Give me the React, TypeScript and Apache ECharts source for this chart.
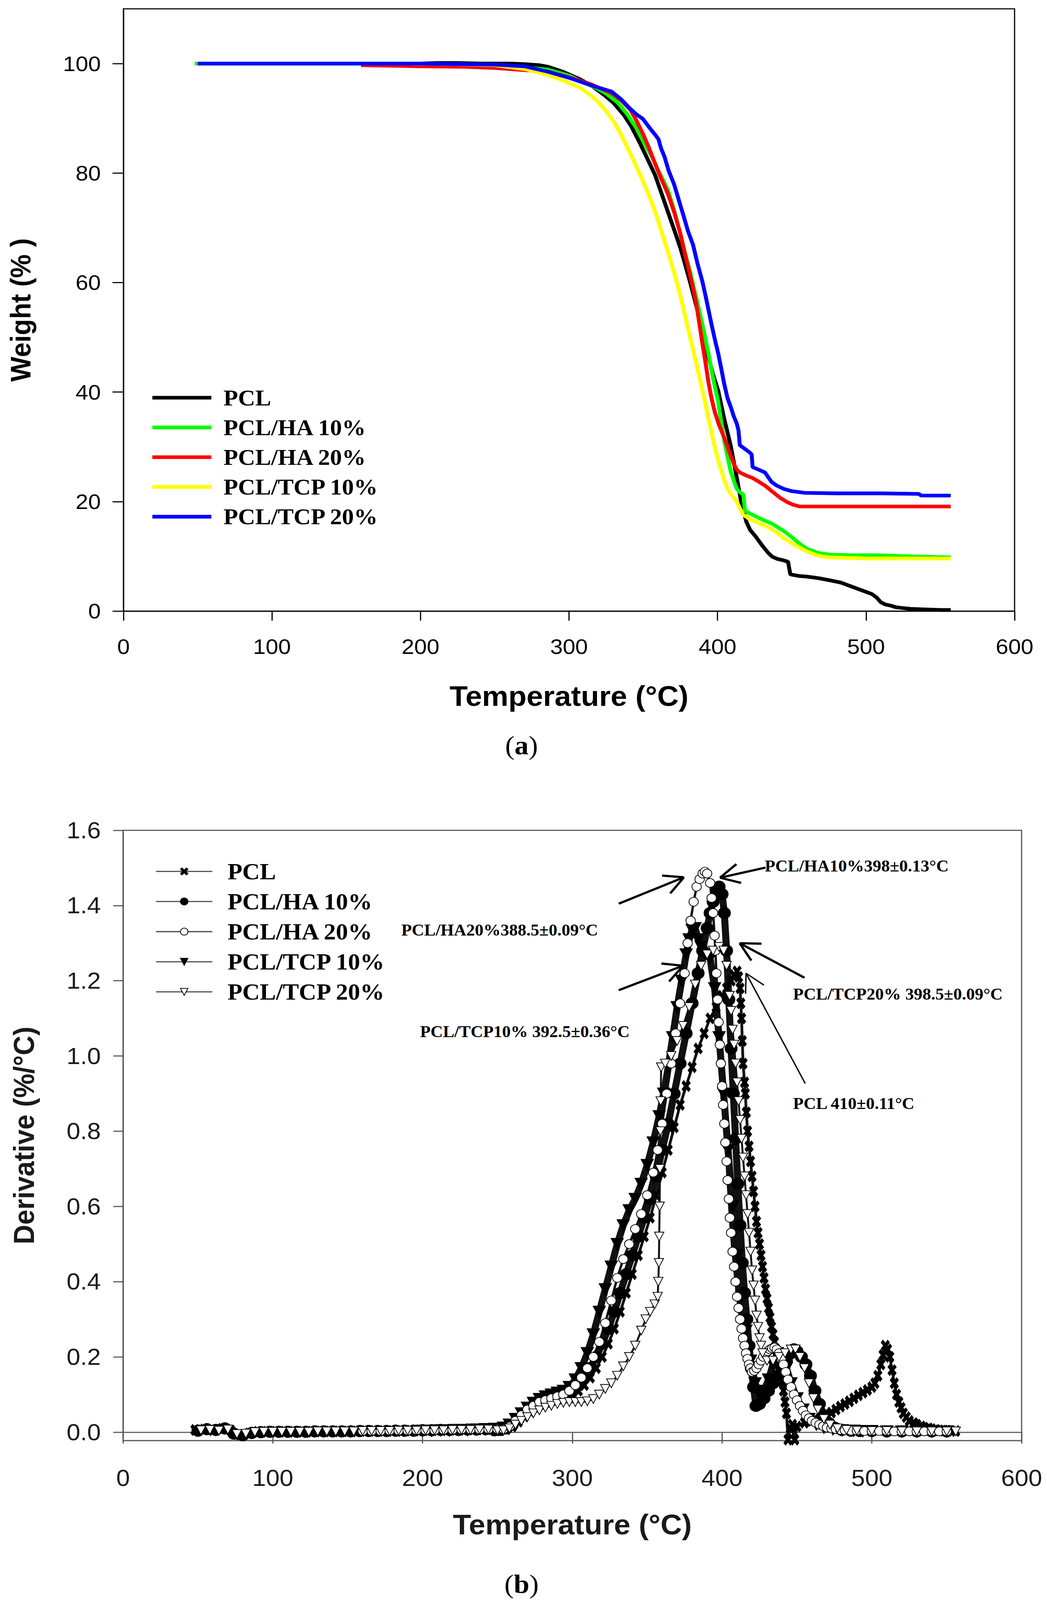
import React, { useEffect, useRef } from 'react';
import * as echarts from 'echarts';

// ---------- shared ----------
const seriesNames = ['PCL', 'PCL/HA 10%', 'PCL/HA 20%', 'PCL/TCP 10%', 'PCL/TCP 20%'];
const tgColors = ['#000000', '#00ff00', '#ff0000', '#ffff00', '#0000ff'];
const weightTicks = [0, 20, 40, 60, 80, 100];
const derivTicks = [0, 0.2, 0.4, 0.6, 0.8, 1.0, 1.2, 1.4, 1.6];

// ---------- (a) TG curves: [temperature °C, weight %] ----------
const tgPCL = [[200,100],[210,100.1],[225,100.1],[240,100],[260,100],[270,99.9],[280,99.7],[286,99.4],[295,98.6],[307,97.2],[315,96.0],[324,94.2],[330,92.8],[337,90.6],[342,88.5],[347.5,85.6],[353,82.5],[358,79.6],[362,76.5],[366.6,72.9],[371,69.5],[375,66.3],[378,63.5],[381.3,60.3],[384.5,57],[387.7,53.6],[391,50],[394,46.3],[397,43.2],[400.4,40.3],[404.6,35.0],[408.8,30.3],[413,24.3],[416,19.8],[419.4,16.3],[422,14.8],[425.7,13.6],[430,12],[434.2,10.6],[437,9.9],[440.5,9.5],[444,9.3],[447.5,9.0],[449,6.7],[455,6.4],[460,6.3],[468,6.0],[476,5.6],[483,5.2],[489,4.6],[496,3.9],[504,3.1],[507,2.5],[510,1.6],[513,1.2],[516.6,1.0],[520,0.7],[523,0.6],[530,0.4],[540,0.3],[550,0.2],[557,0.2]];
const tgHA10 = [[48,100],[100,100],[150,100],[200,100],[250,99.8],[270,99.3],[286,98.9],[300,97.8],[310,96.5],[318,95.6],[325,94.5],[332.7,92.9],[339,90.8],[345.4,88.2],[350,85.8],[356,82.9],[361,80.0],[366.6,76.9],[371,73.0],[375,68.9],[378,65.5],[381.3,62.3],[384.5,58.5],[387.7,54.9],[391,50.8],[394,46.9],[397,42.5],[400.4,38.3],[402.5,34.5],[404.6,31.0],[406.7,28.2],[408.8,25.6],[411,23.8],[413,22.3],[415,21.7],[417.3,21.3],[418.5,18.3],[422,17.8],[425.7,17.3],[431,16.6],[436.3,16.0],[440,15.4],[444.7,14.6],[450,13.5],[455.3,12.3],[460,11.4],[465.9,10.8],[470,10.5],[476.4,10.3],[490,10.2],[508,10.2],[530,10.0],[557,9.8]];
const tgHA20 = [[160,99.7],[180,99.6],[200,99.5],[230,99.4],[250,99.2],[270,98.8],[286,98.5],[300,97.5],[315,96.2],[328.5,94.6],[335,93.3],[341.2,91.6],[345,89.8],[349.7,87.2],[354,84.5],[358.1,81.6],[362,79.0],[366.6,76.2],[371,72.7],[375,68.9],[378,65.3],[381.3,61.6],[383.5,59],[385.6,56.3],[387.7,52.6],[389.8,48.9],[392,45.2],[394,41.6],[396,38.8],[398.2,36.3],[401,34],[404.6,31.6],[408,29.0],[410.9,26.9],[413,25.8],[415.1,25.3],[419,24.8],[423.6,24.3],[428,23.6],[432,22.9],[437,21.8],[442.6,20.6],[447,19.9],[451.1,19.4],[455.3,19.1],[470,19.1],[500,19.1],[530,19.1],[557,19.1]];
const tgTCP10 = [[195,100],[220,99.9],[250,99.7],[270,99.0],[286,97.9],[297,96.8],[307.4,95.6],[314,94.3],[320.1,92.9],[325,91.3],[330.6,89.2],[336,86.5],[341.2,83.6],[345.5,81.1],[349.7,78.6],[354,75.8],[358.1,72.9],[362,69.5],[366.6,65.6],[371,61.6],[375,57.6],[378,54.0],[381.3,50.3],[384.5,46.6],[387.7,42.9],[391,38.9],[394,35.0],[397,31.3],[400.4,27.6],[403.5,24.8],[406.7,22.3],[410,21.0],[413,20.0],[415,18.8],[417.3,17.6],[421,16.9],[425.7,16.3],[430,15.8],[434.2,15.3],[440,14.3],[444.7,13.3],[450,12.4],[455.3,11.6],[460,10.9],[465.9,10.3],[470,10.0],[476.4,9.8],[500,9.6],[530,9.6],[557,9.6]];
const tgTCP20 = [[50,100],[100,100],[150,100],[200,100],[250,99.8],[270,99.5],[286,98.5],[300,97.4],[315,96.0],[328.5,94.9],[335,93.5],[341,91.8],[345,90.8],[349.7,89.9],[355,88.0],[358,87.0],[360.2,86.2],[362,84.5],[364.4,82.9],[367,80.5],[370.8,77.9],[374,75.0],[377.1,72.2],[380,69.5],[383.5,66.9],[386.5,63.5],[389.8,60.2],[392,57.5],[394,54.9],[396,52.3],[398.2,49.6],[400.5,47],[402.5,44.3],[404.5,41.5],[406.7,38.9],[409,37.2],[410.9,35.6],[413,34.2],[414.1,33.0],[415,30.3],[418,29.7],[421.5,29.0],[423,28.6],[423.6,26.3],[428,25.8],[432,25.3],[434,24.5],[436.3,23.6],[440,22.9],[444.7,22.3],[450,21.9],[458.5,21.6],[480,21.5],[510,21.5],[535.6,21.4],[537,21.1],[557,21.1]];

// ---------- (b) DTG curves: [temperature °C, derivative %/°C] ----------
const dtgPCL = [[48,0.006],[54,0.007],[60,0.005],[66,0.009],[72,0.004],[78,-0.007],[84,-0.003],[90,0.001],[96,0.001],[102,0.001],[108,0.001],[114,0.001],[120,0.001],[126,0.001],[132,0.002],[138,0.002],[144,0.002],[150,0.002],[156,0.002],[162,0.003],[168,0.003],[174,0.003],[180,0.003],[186,0.003],[192,0.004],[198,0.004],[204,0.005],[210,0.005],[216,0.005],[222,0.006],[228,0.006],[234,0.007],[240,0.007],[246,0.008],[252,0.005],[256,0.008],[260,0.015],[264,0.028],[268,0.042],[272,0.055],[276,0.065],[280,0.074],[284,0.08],[288,0.085],[292,0.09],[296,0.095],[300,0.1],[304,0.11],[308,0.125],[312,0.145],[316,0.17],[320,0.2],[324,0.235],[328,0.275],[332,0.32],[336,0.37],[340,0.42],[344,0.47],[348,0.52],[352,0.57],[356,0.63],[360,0.69],[364,0.75],[368,0.81],[372,0.87],[376,0.92],[380,0.97],[384,1.02],[388,1.06],[392,1.1],[396,1.13],[400,1.16],[403,1.18],[406,1.2],[408,1.215],[410,1.225],[411,1.21],[412,1.18],[412.5,1.14],[413,1.1],[413.5,1.04],[414,0.98],[415,0.93],[415.5,0.9],[416.2,0.85],[417,0.8],[418,0.76],[419,0.72],[420,0.68],[421,0.64],[422,0.6],[423,0.56],[424,0.53],[425,0.5],[426,0.47],[427,0.44],[428,0.41],[429,0.38],[430,0.355],[431,0.33],[432,0.305],[433,0.28],[434,0.26],[435,0.24],[436,0.22],[437,0.2],[438,0.18],[439,0.16],[440,0.135],[441,0.11],[442,0.08],[443,0.05],[444,-0.02],[445.5,0.01],[447,0.02],[448.5,-0.02],[450,0.015],[455,0.025],[460,0.03],[465,0.035],[470,0.045],[473,0.052],[476,0.06],[479,0.068],[482,0.075],[485,0.082],[488,0.09],[491,0.098],[494,0.105],[497,0.112],[500,0.12],[502,0.13],[504,0.15],[506,0.18],[507.5,0.205],[509,0.23],[510.5,0.22],[512,0.2],[513.5,0.165],[515,0.13],[516.5,0.1],[518,0.08],[519.5,0.065],[521,0.05],[523,0.04],[525,0.03],[528,0.024],[530,0.02],[533,0.015],[535,0.012],[538,0.01],[540,0.008],[543,0.006],[545,0.005],[548,0.004],[550,0.004],[553,0.003],[556,0.003]];
const dtgHA10 = [[50,0.004],[56,0.008],[62,0.006],[68,0.01],[74,-0.004],[80,-0.008],[86,-0.002],[92,0.0],[98,0.001],[104,0.001],[110,0.001],[116,0.001],[122,0.001],[128,0.002],[134,0.002],[140,0.002],[146,0.002],[152,0.002],[158,0.003],[164,0.003],[170,0.003],[176,0.003],[182,0.004],[188,0.004],[194,0.004],[200,0.005],[206,0.005],[212,0.006],[218,0.006],[224,0.006],[230,0.007],[236,0.007],[242,0.008],[248,0.005],[252,0.006],[256,0.01],[260,0.02],[264,0.035],[268,0.05],[272,0.062],[276,0.072],[280,0.08],[284,0.085],[288,0.09],[292,0.095],[296,0.1],[300,0.11],[304,0.125],[308,0.145],[312,0.17],[316,0.2],[320,0.235],[324,0.275],[328,0.32],[332,0.37],[336,0.42],[340,0.47],[344,0.52],[348,0.57],[352,0.62],[356,0.68],[360,0.75],[364,0.82],[368,0.9],[372,0.98],[376,1.06],[380,1.14],[384,1.22],[387,1.28],[390,1.34],[392,1.38],[394,1.41],[396,1.44],[398,1.45],[400,1.43],[401.5,1.38],[403,1.28],[404.5,1.15],[406,1.02],[407.5,0.9],[409,0.78],[410.5,0.66],[412,0.55],[413.5,0.45],[415,0.37],[416.5,0.3],[418,0.23],[419.5,0.17],[421,0.12],[422.6,0.07],[425,0.075],[428,0.09],[431,0.11],[434,0.13],[437,0.15],[440,0.17],[443,0.19],[446,0.21],[448,0.22],[450,0.215],[453,0.2],[456,0.18],[459,0.15],[462,0.11],[465,0.075],[468,0.045],[471,0.025],[475,0.012],[480,0.006],[486,0.004],[492,0.003],[500,0.003],[510,0.002],[520,0.002],[530,0.002],[540,0.002],[550,0.002]];
const dtgHA20 = [[160,0.003],[166,0.003],[172,0.003],[178,0.004],[184,0.004],[190,0.004],[196,0.005],[202,0.005],[208,0.005],[214,0.006],[220,0.006],[226,0.007],[232,0.007],[238,0.007],[244,0.008],[250,0.008],[254,0.008],[258,0.015],[262,0.03],[266,0.045],[270,0.06],[274,0.07],[278,0.08],[282,0.085],[286,0.09],[290,0.095],[294,0.1],[298,0.11],[302,0.125],[306,0.145],[310,0.17],[314,0.2],[318,0.24],[322,0.29],[326,0.35],[330,0.41],[334,0.46],[338,0.5],[342,0.54],[346,0.58],[350,0.63],[354,0.69],[357,0.75],[360,0.82],[363,0.9],[366,0.98],[369,1.06],[372,1.14],[375,1.22],[377,1.3],[379,1.36],[381,1.41],[383,1.45],[385,1.47],[387,1.485],[388.5,1.49],[390,1.485],[392,1.46],[393,1.42],[394,1.38],[395,1.32],[395.5,1.28],[396.2,1.22],[397,1.15],[397.7,1.09],[398.5,1.03],[399.2,0.98],[400,0.92],[400.7,0.87],[401.5,0.82],[402.2,0.77],[403,0.72],[403.7,0.67],[404.5,0.62],[405.2,0.57],[406,0.53],[407,0.48],[408,0.44],[409,0.4],[410,0.36],[411,0.33],[412,0.3],[413,0.275],[414,0.25],[415,0.23],[416,0.21],[417,0.195],[418,0.18],[419,0.17],[420,0.16],[421.5,0.163],[423,0.17],[424.5,0.18],[426,0.19],[427.5,0.2],[429,0.21],[430.5,0.215],[432,0.22],[433.5,0.223],[435,0.225],[436.5,0.22],[438,0.21],[439.5,0.195],[441,0.18],[442.5,0.16],[444,0.14],[446,0.12],[448,0.1],[450,0.085],[452,0.07],[454,0.057],[456,0.045],[458,0.037],[460,0.03],[462.5,0.025],[465,0.02],[467.5,0.016],[470,0.012],[473,0.01],[476,0.008],[479,0.006],[482,0.005],[486,0.004],[490,0.004],[495,0.003],[500,0.003],[505,0.003],[510,0.003],[515,0.002],[520,0.002],[525,0.002],[530,0.002],[535,0.002],[540,0.002],[545,0.002],[550,0.002]];
const dtgTCP10 = [[200,0.004],[206,0.004],[212,0.005],[218,0.005],[224,0.006],[230,0.006],[236,0.007],[242,0.008],[248,0.009],[254,0.012],[258,0.02],[262,0.035],[266,0.05],[270,0.065],[274,0.078],[278,0.088],[282,0.095],[286,0.1],[290,0.105],[294,0.11],[298,0.12],[302,0.14],[306,0.17],[310,0.21],[314,0.26],[318,0.32],[322,0.38],[326,0.44],[330,0.5],[334,0.55],[338,0.59],[342,0.62],[346,0.66],[350,0.71],[354,0.77],[358,0.84],[361,0.9],[364,0.97],[367,1.05],[370,1.13],[373,1.2],[376,1.27],[378,1.31],[380,1.335],[382,1.34],[384,1.31],[386,1.29],[389,1.27],[392,1.26],[395,1.18],[398,1.05],[401,0.9],[404,0.75],[407,0.6],[410,0.47],[413,0.36],[416,0.27],[419,0.19],[422,0.13],[425,0.1],[428,0.11],[431,0.14],[434,0.18],[437,0.21],[440,0.2],[443,0.17],[446,0.13],[450,0.09],[454,0.06],[458,0.035],[463,0.02],[468,0.012],[474,0.008],[480,0.005],[488,0.004],[494,0.003],[500,0.003],[510,0.002],[520,0.002],[530,0.002],[540,0.002],[550,0.002]];
const dtgTCP20 = [[52,0.005],[58,0.006],[64,0.004],[70,0.007],[76,-0.005],[82,-0.004],[88,0.0],[94,0.001],[100,0.001],[106,0.001],[112,0.001],[118,0.001],[124,0.001],[130,0.002],[136,0.002],[142,0.002],[148,0.002],[154,0.002],[160,0.003],[166,0.003],[172,0.003],[178,0.003],[184,0.004],[190,0.004],[196,0.004],[202,0.005],[208,0.005],[214,0.005],[220,0.006],[226,0.006],[232,0.006],[238,0.007],[244,0.007],[250,0.005],[254,0.005],[258,0.01],[262,0.02],[266,0.03],[270,0.04],[274,0.05],[278,0.058],[282,0.065],[286,0.07],[290,0.075],[294,0.078],[298,0.08],[302,0.08],[306,0.08],[310,0.082],[314,0.088],[318,0.1],[322,0.115],[326,0.13],[330,0.15],[334,0.175],[338,0.2],[342,0.23],[346,0.27],[349,0.3],[352,0.32],[355,0.34],[357,0.36],[357.4,0.4],[357.8,0.45],[358,0.52],[358.3,0.6],[358.5,0.7],[358.8,0.8],[359,0.88],[359.3,0.97],[362,0.98],[366,1.0],[370,1.04],[374,1.08],[378,1.13],[382,1.19],[386,1.24],[390,1.27],[394,1.28],[398,1.29],[401,1.28],[403,1.24],[405,1.16],[406,1.12],[407,1.07],[408,1.03],[409,0.98],[410,0.93],[411,0.88],[412,0.83],[413,0.78],[414,0.73],[415,0.68],[416,0.63],[417,0.58],[418,0.53],[419,0.48],[420,0.43],[421,0.39],[422,0.35],[423,0.31],[424,0.28],[425,0.25],[426,0.23],[427,0.21],[430,0.19],[434,0.19],[438,0.2],[442,0.21],[446,0.22],[449,0.22],[452,0.2],[455,0.17],[458,0.13],[461,0.09],[464,0.06],[468,0.035],[472,0.02],[477,0.01],[483,0.006],[490,0.004],[500,0.003],[510,0.003],[520,0.002],[530,0.002],[540,0.002],[550,0.002],[556,0.002]];

const tgData = [tgPCL, tgHA10, tgHA20, tgTCP10, tgTCP20];
const dtgData = [dtgPCL, dtgHA10, dtgHA20, dtgTCP10, dtgTCP20];

const crossPath = 'path://M0,2L2,0L5,3L8,0L10,2L7,5L10,8L8,10L5,7L2,10L0,8L3,5Z';
const dtgSymbols = [crossPath, 'circle', 'emptyCircle', 'triangle', 'emptyTriangle'];
const dtgRotate = [0, 0, 0, 180, 180];
const dtgLineWidth = [7, 18, 6, 18, 5];
const dtgSymbolSize = [[20, 28], 30, 24, 30, 24];
const dtgDrawOrder = [3, 1, 0, 2, 4]; // TCP10, HA10, PCL, HA20, TCP20 (open markers drawn last)

// annotations for (b), in data coordinates
const peakLabels = [
  { text: 'PCL/HA10%398±0.13°C', at: [428.5, 1.505] },
  { text: 'PCL/HA20%388.5±0.09°C', at: [185.8, 1.335] },
  { text: 'PCL/TCP10% 392.5±0.36°C', at: [198.3, 1.065] },
  { text: 'PCL/TCP20% 398.5±0.09°C', at: [447.4, 1.164] },
  { text: 'PCL 410±0.11°C', at: [447.4, 0.874] },
];
const peakArrows = [
  { tail: [429, 1.501], tip: [398.6, 1.474], w: 6 },
  { tail: [331, 1.405], tip: [374.5, 1.475], w: 6 },
  { tail: [331, 1.175], tip: [374, 1.24], w: 6 },
  { tail: [455, 1.208], tip: [411.7, 1.3], w: 6 },
  { tail: [455.5, 0.927], tip: [416, 1.22], w: 3.5 },
];

const SANS = 'Liberation Sans';
const SERIF = 'Liberation Serif';
const PAGE_W = 2680;
const PAGE_H = 4357;

function optionA(): any {
  return {
    animation: false,
    backgroundColor: '#ffffff',
    grid: { left: 316, top: 24, width: 2281, height: 1640, show: true, borderColor: '#000', borderWidth: 3, backgroundColor: 'transparent' },
    xAxis: {
      type: 'value', min: 0, max: 600, interval: 100,
      name: 'Temperature (°C)', nameLocation: 'middle', nameGap: 194,
      nameTextStyle: { fontFamily: SANS, fontWeight: 'bold', fontSize: 76, color: '#000' },
      axisLine: { lineStyle: { color: '#000', width: 3 } },
      axisTick: { length: 26, lineStyle: { color: '#000', width: 3 } },
      axisLabel: { margin: 68, fontFamily: SANS, fontSize: 58, color: '#000' },
      splitLine: { show: false },
    },
    yAxis: {
      type: 'value', min: 0, max: 110,
      name: 'Weight (% )', nameLocation: 'middle', nameGap: 227,
      nameTextStyle: { fontFamily: SANS, fontWeight: 'bold', fontSize: 72, color: '#000' },
      axisLine: { lineStyle: { color: '#000', width: 3 } },
      axisTick: { length: 28, customValues: weightTicks, lineStyle: { color: '#000', width: 3 } },
      axisLabel: { margin: 58, customValues: weightTicks, fontFamily: SANS, fontSize: 58, color: '#000' },
      splitLine: { show: false },
    },
    legend: {
      orient: 'vertical', left: 385, top: 1047, itemWidth: 151, itemHeight: 10, itemGap: 19,
      data: seriesNames.map((n) => ({ name: n, icon: 'rect' })),
      textStyle: { fontFamily: SERIF, fontWeight: 'bold', fontSize: 61, color: '#000', lineHeight: 62, padding: [0, 0, 0, 26] },
    },
    series: seriesNames.map((name, i) => ({
      type: 'line', name, data: tgData[i], symbol: 'none', showSymbol: false,
      lineStyle: { width: 10, color: tgColors[i] }, itemStyle: { color: tgColors[i] },
    })),
    graphic: [{
      type: 'text', x: 1335, y: 2030,
      style: {
        text: '({b|a})', fontFamily: SERIF, fontSize: 72, fill: '#000', align: 'center', verticalAlign: 'middle',
        rich: { b: { fontFamily: SERIF, fontSize: 72, fontWeight: 'bold', fill: '#000' } },
      },
    }],
  };
}

function optionB(): any {
  const axisColor = '#555';
  const txt = '#1a1a1a';
  return {
    animation: false,
    backgroundColor: '#ffffff',
    grid: { left: 315, top: 111, width: 2300, height: 1662, show: true, borderColor: axisColor, borderWidth: 3, backgroundColor: 'transparent' },
    xAxis: {
      type: 'value', min: 0, max: 600, interval: 100,
      name: 'Temperature (°C)', nameLocation: 'middle', nameGap: 191,
      nameTextStyle: { fontFamily: SANS, fontWeight: 'bold', fontSize: 76, color: txt },
      axisLine: { lineStyle: { color: axisColor, width: 3 } },
      axisTick: { length: 31, lineStyle: { color: axisColor, width: 3 } },
      axisLabel: { margin: 70, fontFamily: SANS, fontSize: 63, color: txt },
      splitLine: { show: false },
    },
    yAxis: {
      type: 'value', min: -0.0225, max: 1.6,
      name: 'Derivative (%/°C)', nameLocation: 'middle', nameGap: 217,
      nameTextStyle: { fontFamily: SANS, fontWeight: 'bold', fontSize: 74, color: txt },
      axisLine: { lineStyle: { color: axisColor, width: 3 } },
      axisTick: { length: 25, customValues: derivTicks, lineStyle: { color: axisColor, width: 3 } },
      axisLabel: { margin: 57, customValues: derivTicks, fontFamily: SANS, fontSize: 63, color: txt, formatter: (v: number) => v.toFixed(1) },
      splitLine: { show: false },
    },
    legend: {
      orient: 'vertical', left: 393, top: 187, itemWidth: 144, itemHeight: 24, itemGap: 20,
      data: seriesNames,
      lineStyle: { width: 3, color: '#444' },
      textStyle: { fontFamily: SERIF, fontWeight: 'bold', fontSize: 62, color: '#000', lineHeight: 62, padding: [0, 0, 0, 34] },
    },
    series: dtgDrawOrder.map((i) => ({
      type: 'line', name: seriesNames[i], data: dtgData[i],
      symbol: dtgSymbols[i], symbolSize: dtgSymbolSize[i], symbolRotate: dtgRotate[i], showAllSymbol: true,
      lineStyle: { width: dtgLineWidth[i], color: '#111' },
      itemStyle: { color: '#000', borderColor: '#000', borderWidth: 3 },
    })),
  };
}

export default function App() {
  const refA = useRef<HTMLDivElement>(null);
  const refB = useRef<HTMLDivElement>(null);
  const viewH = typeof window !== 'undefined' && window.innerHeight ? window.innerHeight : PAGE_H;
  const k = Math.min(1, viewH / PAGE_H);
  useEffect(() => {
    const a = echarts.init(refA.current as HTMLDivElement, null, { renderer: 'svg' });
    const b = echarts.init(refB.current as HTMLDivElement, null, { renderer: 'svg' });
    a.setOption(optionA());
    b.setOption(optionB());

    const toPx = (p: number[]) => b.convertToPixel({ gridIndex: 0 }, p) as number[];
    const elements: any[] = [];
    peakArrows.forEach((ar) => {
      const [tx, ty] = toPx(ar.tip);
      const [sx, sy] = toPx(ar.tail);
      elements.push({ type: 'line', shape: { x1: sx, y1: sy, x2: tx, y2: ty }, style: { stroke: '#000', lineWidth: ar.w }, z: 100 });
      const ang = Math.atan2(sy - ty, sx - tx);
      [-0.49, 0.49].forEach((d) => {
        const L = 56;
        elements.push({
          type: 'line',
          shape: { x1: tx, y1: ty, x2: tx + L * Math.cos(ang + d), y2: ty + L * Math.sin(ang + d) },
          style: { stroke: '#000', lineWidth: ar.w }, z: 100,
        });
      });
    });
    peakLabels.forEach((lb) => {
      const [x, y] = toPx(lb.at);
      elements.push({
        type: 'text', x, y, z: 101,
        style: { text: lb.text, fontFamily: SERIF, fontWeight: 'bold', fontSize: 44, fill: '#000', align: 'left', verticalAlign: 'middle' },
      });
    });
    elements.push({
      type: 'text', x: 1335, y: 2164,
      style: {
        text: '({b|b})', fontFamily: SERIF, fontSize: 72, fill: '#000', align: 'center', verticalAlign: 'middle',
        rich: { b: { fontFamily: SERIF, fontSize: 72, fontWeight: 'bold', fill: '#000' } },
      },
    });
    b.setOption({ graphic: elements });

    return () => { a.dispose(); b.dispose(); };
  }, []);
  return (
    <div style={{ position: 'absolute', left: 0, top: 0, width: PAGE_W, height: PAGE_H * k, overflow: 'hidden', background: '#fff' }}>
      <div style={{ position: 'absolute', left: 0, top: 0, width: PAGE_W, height: PAGE_H, transform: `scale(1, ${k})`, transformOrigin: '0 0' }}>
        <div ref={refA} style={{ position: 'absolute', left: 0, top: 0, width: PAGE_W, height: 2150 }} />
        <div ref={refB} style={{ position: 'absolute', left: 0, top: 2150, width: PAGE_W, height: PAGE_H - 2150 }} />
      </div>
    </div>
  );
}
